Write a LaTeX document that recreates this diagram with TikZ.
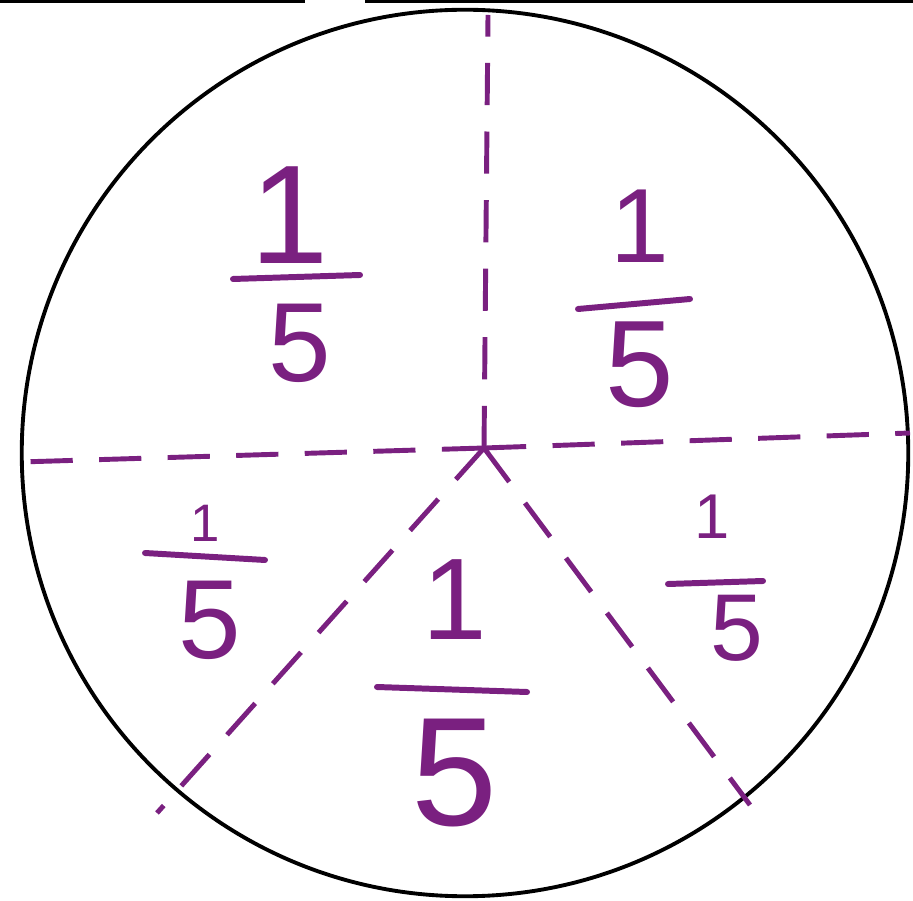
\documentclass[tikz,border=0pt]{standalone}
\usepackage{fontspec}
\setmainfont{Liberation Sans}
\definecolor{hp}{RGB}{122,32,128}
\begin{document}
\begin{tikzpicture}[x=0.01cm,y=-0.01cm,
  dig/.style={text=hp, inner sep=0pt},
  cut/.style={draw=hp, line width=1.4pt, dash pattern=on 12pt off 7.5pt},
  bar/.style={draw=hp, line width=1.7pt, line cap=round},
  rim/.style={draw=black, line width=1.1pt, circle, inner sep=0pt, minimum size=8.86cm}]
\useasboundingbox (0,0) rectangle (913,901);
% scan edge at the top
\coordinate (e1) at (0,1.5); \coordinate (e2) at (305,1.5);
\coordinate (e3) at (365,1.5); \coordinate (e4) at (913,1.5);
\draw[line width=0.9pt] (e1) -- (e2) (e3) -- (e4);
% the circle
\node[rim] (disc) at (465,453) {};
% dashed cuts
\coordinate (O) at (484,448);
\coordinate (T) at (488,15);
\coordinate (L) at (20,462);
\coordinate (R) at (910,433);
\coordinate (BL) at (157,813);
\coordinate (BR) at (750,805);
\draw[cut] (O) -- (T);
\draw[cut] (O) -- (L);
\draw[cut] (O) -- (R);
\draw[cut] (O) -- (BL);
\draw[cut] (O) -- (BR);
% top left 1/5
\node[dig, font=\fontsize{40pt}{40pt}\selectfont] (n1) at (290,215) {1};
\coordinate (b1a) at (233,279); \coordinate (b1b) at (360,275);
\draw[bar] (b1a) -- (b1b);
\node[dig, font=\fontsize{32pt}{32pt}\selectfont] (d1) at (300,343) {5};
% top right 1/5
\node[dig, font=\fontsize{30pt}{30pt}\selectfont] (n2) at (640,226) {1};
\coordinate (b2a) at (578,309); \coordinate (b2b) at (690,299);
\draw[bar] (b2a) -- (b2b);
\node[dig, font=\fontsize{35pt}{35pt}\selectfont] (d2) at (640,365) {5};
% left lower 1/5
\node[dig, font=\fontsize{15pt}{15pt}\selectfont] (n3) at (205,523) {1};
\coordinate (b3a) at (145,553); \coordinate (b3b) at (265,560);
\draw[bar] (b3a) -- (b3b);
\node[dig, font=\fontsize{32pt}{32pt}\selectfont] (d3) at (210,620) {5};
% bottom 1/5
\node[dig, font=\fontsize{33pt}{33pt}\selectfont] (n4) at (455,600) {1};
\coordinate (b4a) at (377,687); \coordinate (b4b) at (527,692);
\draw[bar] (b4a) -- (b4b);
\node[dig, font=\fontsize{44pt}{44pt}\selectfont] (d4) at (455,773) {5};
% right lower 1/5
\node[dig, font=\fontsize{18pt}{18pt}\selectfont] (n5) at (712,517) {1};
\coordinate (b5a) at (668,584); \coordinate (b5b) at (763,581);
\draw[bar] (b5a) -- (b5b);
\node[dig, font=\fontsize{27pt}{27pt}\selectfont] (d5) at (737,628) {5};
\end{tikzpicture}
\end{document}
